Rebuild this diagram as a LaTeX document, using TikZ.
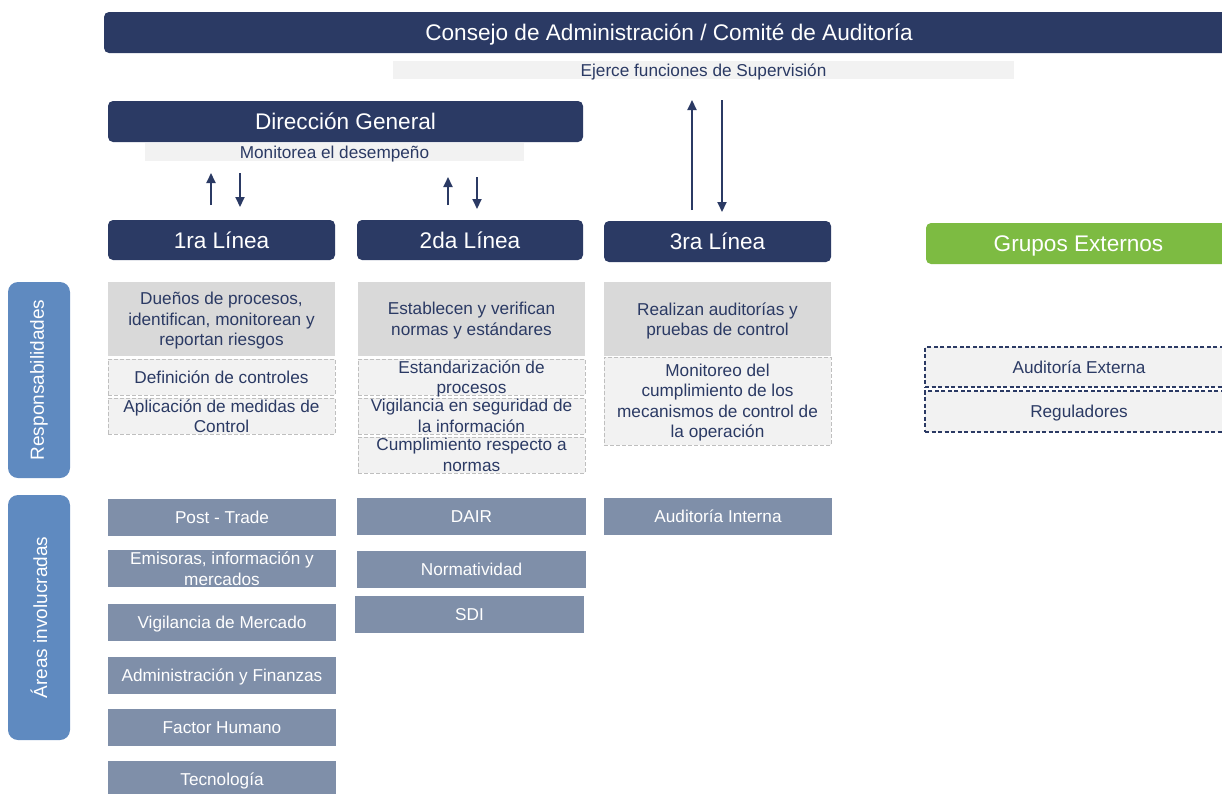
\documentclass[tikz,border=0pt]{standalone}
\usepackage{fontspec}
\setmainfont{Liberation Sans}
\usetikzlibrary{arrows.meta}
\definecolor{navy}{HTML}{2B3A64}
\definecolor{bandgrey}{HTML}{F2F2F2}
\definecolor{boxgrey}{HTML}{D9D9D9}
\definecolor{dashgrey}{HTML}{BFBFBF}
\definecolor{areablue}{HTML}{7F8FA9}
\definecolor{sideblue}{HTML}{5F8AC0}
\definecolor{extgreen}{HTML}{7DBB42}
\newcommand\bx[7]{%
  \pgfmathsetmacro\bw{#4-#2}\pgfmathsetmacro\bh{#5-#3}%
  \node[#6, minimum width=\bw pt, minimum height=\bh pt] (#1) at ({(#2+#4)/2},{(#3+#5)/2})
    {\parbox[c][\bh pt][c]{\dimexpr\bw pt-6pt\relax}{\centering\rule{0pt}{0.72em}#7\par\vskip-\prevdepth}};%
}
\tikzset{
  base/.style={inner sep=0pt, outer sep=0pt},
  hdr/.style={base, fill=navy, text=white, rounded corners=5pt, font=\fontsize{22.6}{26}\selectfont},
  grn/.style={base, fill=extgreen, text=white, rounded corners=5pt, font=\fontsize{22.6}{26}\selectfont},
  band/.style={base, fill=bandgrey, text=navy, font=\fontsize{17.2}{20.5}\selectfont},
  gbox/.style={base, fill=boxgrey, text=navy, font=\fontsize{17.2}{20.5}\selectfont},
  dbox/.style={base, fill=bandgrey, draw=dashgrey, line width=1pt, dash pattern=on 4pt off 2pt, text=navy, font=\fontsize{17.2}{20.5}\selectfont},
  ebox/.style={base, fill=bandgrey, draw=navy, line width=1.2pt, dash pattern=on 4pt off 2.5pt, text=navy, font=\fontsize{17.2}{20.5}\selectfont},
  abox/.style={base, fill=areablue, text=white, font=\fontsize{17.2}{20.5}\selectfont},
  vbox/.style={base, fill=sideblue, text=white, rounded corners=10pt, rotate=90, font=\fontsize{19}{22}\selectfont},
  arr/.style={draw=navy, line width=2pt, -{Triangle[length=10pt,width=9pt]}},
}
\begin{document}
\begin{tikzpicture}[x=1pt,y=-1pt]
\useasboundingbox (0,0) rectangle (1222,793);
% top levels
\bx{title}{104}{12}{1234}{53}{hdr}{Consejo de Administración / Comité de Auditoría}
\bx{sup}{393}{61}{1014}{79}{band}{Ejerce funciones de Supervisión}
\bx{dg}{108}{101}{583}{142}{hdr}{Dirección General}
\bx{mon}{145}{143}{524}{161}{band}{Monitorea el desempeño}
% lines
\bx{l1}{108}{220}{335}{260}{hdr}{1ra Línea}
\bx{l2}{357}{220}{583}{260}{hdr}{2da Línea}
\bx{l3}{604}{221}{831}{262}{hdr}{3ra Línea}
\bx{ge}{926}{223}{1231}{264}{grn}{Grupos Externos}
% side labels
\node[vbox, minimum width=196pt, minimum height=62pt] (vb1) at (39,380) {Responsabilidades};
\node[vbox, minimum width=245pt, minimum height=62pt] (vb2) at (39,617.5) {Áreas involucradas};
% responsibilities
\bx{r1}{108}{282}{335}{356}{gbox}{Dueños de procesos,\\identifican, monitorean y\\reportan riesgos}
\bx{d11}{108}{359}{335}{395}{dbox}{Definición de controles}
\bx{d12}{108}{398}{335}{434}{dbox}{Aplicación de medidas de\\Control}
\bx{r2}{358}{282}{585}{356}{gbox}{Establecen y verifican\\normas y estándares}
\bx{d21}{358}{359}{585}{395}{dbox}{Estandarización de\\procesos}
\bx{d22}{358}{398}{585}{434}{dbox}{Vigilancia en seguridad de\\la información}
\bx{d23}{358}{437}{585}{473}{dbox}{Cumplimiento respecto a\\normas}
\bx{r3}{604}{282}{831}{356}{gbox}{Realizan auditorías y\\pruebas de control}
\bx{d31}{604}{357}{831}{445}{dbox}{Monitoreo del\\cumplimiento de los\\mecanismos de control de\\la operación}
\bx{e1}{925}{347}{1233}{387}{ebox}{Auditoría Externa}
\bx{e2}{925}{391}{1233}{432}{ebox}{Reguladores}
% areas
\bx{a11}{108}{499}{336}{536}{abox}{Post - Trade}
\bx{a12}{108}{550}{336}{587}{abox}{Emisoras, información y\\mercados}
\bx{a13}{108}{604}{336}{641}{abox}{Vigilancia de Mercado}
\bx{a14}{108}{657}{336}{694}{abox}{Administración y Finanzas}
\bx{a15}{108}{709}{336}{746}{abox}{Factor Humano}
\bx{a16}{108}{761}{336}{798}{abox}{Tecnología}
\bx{a21}{357}{498}{586}{535}{abox}{DAIR}
\bx{a22}{357}{551}{586}{588}{abox}{Normatividad}
\bx{a23}{355}{596}{584}{633}{abox}{SDI}
\bx{a31}{604}{498}{832}{535}{abox}{Auditoría Interna}
% arrows
\draw[arr, shorten <=15pt, shorten >=12pt] ([xshift=-10.5pt]l1.north) -- ([xshift=-10.5pt]l1.north |- mon.south);
\draw[arr, shorten <=12pt, shorten >=13pt] ([xshift=18.5pt]l1.north |- mon.south) -- ([xshift=18.5pt]l1.north);
\draw[arr, shorten <=15pt, shorten >=16pt] ([xshift=-22pt]l2.north) -- ([xshift=-22pt]l2.north |- mon.south);
\draw[arr, shorten <=16pt, shorten >=11pt] ([xshift=7pt]l2.north |- mon.south) -- ([xshift=7pt]l2.north);
\draw[arr, shorten <=11pt, shorten >=21pt] ([xshift=-25.5pt]l3.north) -- ([xshift=-25.5pt]l3.north |- sup.south);
\draw[arr, shorten <=21pt, shorten >=9pt] ([xshift=4.5pt]l3.north |- sup.south) -- ([xshift=4.5pt]l3.north);
\end{tikzpicture}
\end{document}
